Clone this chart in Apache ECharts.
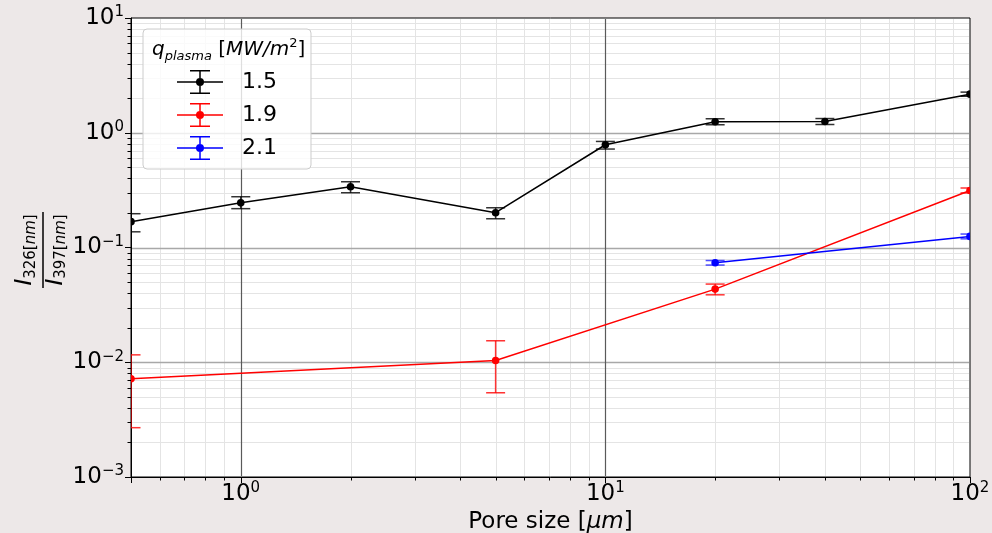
<!DOCTYPE html>
<html><head><meta charset="utf-8">
<script src="https://cdn.jsdelivr.net/npm/echarts@6/dist/echarts.min.js"></script>
<style>html,body{margin:0;padding:0;background:#ede8e8}#c{width:992px;height:533px}</style>
</head><body><div id="c"></div>
<script>
// ---- data ----
const poreBlack  = [0.5, 1, 2, 5, 10, 20, 40, 100];
const ratioBlack = [0.168, 0.245, 0.338, 0.201, 0.786, 1.247, 1.255, 2.17];
const lowBlack   = [0.137, 0.218, 0.300, 0.178, 0.721, 1.174, 1.18, 2.08];
const highBlack  = [0.197, 0.277, 0.374, 0.222, 0.840, 1.324, 1.33, 2.26];

const poreRed  = [0.5, 5, 20, 100];
const ratioRed = [0.00718, 0.01037, 0.0434, 0.314];
const lowRed   = [0.00269, 0.00542, 0.0387, 0.299];
const highRed  = [0.0116, 0.01539, 0.048, 0.330];

const poreBlue  = [20, 100];
const ratioBlue = [0.0736, 0.125];
const lowBlue   = [0.0703, 0.119];
const highBlue  = [0.077, 0.131];

const seriesNames = ['1.5', '1.9', '2.1'];
const xMajorTicks = [1, 10];
const yMajorTicks = [0.01, 0.1, 1];
const xMinorTicks = [0.6,0.7,0.8,0.9, 2,3,4,5,6,7,8,9, 20,30,40,50,60,70,80,90];
const yMinorTicks = [0.002,0.003,0.004,0.005,0.006,0.007,0.008,0.009,
                     0.02,0.03,0.04,0.05,0.06,0.07,0.08,0.09,
                     0.2,0.3,0.4,0.5,0.6,0.7,0.8,0.9,
                     2,3,4,5,6,7,8,9];

const FONT = 'DejaVu Sans';

function zip4(a,b,c,d){ return a.map((v,i)=>[v,b[i],c[i],d[i]]); }
function zip2(a,b){ return a.map((v,i)=>[v,b[i]]); }

function powLabel(v){
  const e = Math.log10(v), r = Math.round(e);
  if (Math.abs(e - r) > 1e-6) return '';
  return '{b|10}{s|' + (r < 0 ? '\u2212' + (-r) : r) + '}';
}
const tickRich = {
  b: {fontSize: 23, fontFamily: FONT, color: '#000', lineHeight: 26},
  s: {fontSize: 15, fontFamily: FONT, color: '#000', lineHeight: 14, verticalAlign: 'top'}
};

function gridX(color, width, tick){
  return function(params, api){
    const cs = params.coordSys;
    const px = Math.round(api.coord([api.value(0), 1])[0]) + 0.5;
    const ch = [{type:'line', shape:{x1:px, y1:cs.y+1, x2:px, y2:cs.y+cs.height-1}, style:{stroke:color, lineWidth:width}}];
    if (tick) ch.push({type:'line', shape:{x1:px, y1:cs.y+cs.height, x2:px, y2:cs.y+cs.height+tick}, style:{stroke:'#000', lineWidth:1}});
    return {type:'group', children:ch};
  };
}
function gridY(color, width, tick){
  return function(params, api){
    const cs = params.coordSys;
    const py = Math.round(api.coord([1, api.value(1)])[1]) + 0.5;
    const ch = [{type:'line', shape:{x1:cs.x+1, y1:py, x2:cs.x+cs.width-1, y2:py}, style:{stroke:color, lineWidth:width}}];
    if (tick) ch.push({type:'line', shape:{x1:cs.x-tick, y1:py, x2:cs.x, y2:py}, style:{stroke:'#000', lineWidth:1}});
    return {type:'group', children:ch};
  };
}
function errRender(color, ecolor){
  return function(params, api){
    const x = api.value(0), y = api.value(1), lo = api.value(2), hi = api.value(3);
    const p = api.coord([x, y]), a = api.coord([x, lo]), b = api.coord([x, hi]);
    const w = 9.5;
    return {type:'group', children:[
      {type:'line', shape:{x1:p[0], y1:a[1], x2:p[0], y2:b[1]}, style:{stroke:ecolor, lineWidth:1.5}},
      {type:'line', shape:{x1:p[0]-w, y1:a[1], x2:p[0]+w, y2:a[1]}, style:{stroke:ecolor, lineWidth:1.5}},
      {type:'line', shape:{x1:p[0]-w, y1:b[1], x2:p[0]+w, y2:b[1]}, style:{stroke:ecolor, lineWidth:1.5}},
      {type:'circle', shape:{cx:p[0], cy:p[1], r:3.8}, style:{fill:color}}
    ]};
  };
}

const iconPath = 'path://M0 11.25L46 11.25L46 12.75L0 12.75Z' +
  'M22.25 0L23.75 0L23.75 24L22.25 24Z' +
  'M13 0L33 0L33 1.5L13 1.5Z' +
  'M13 22.5L33 22.5L33 24L13 24Z' +
  'M19 12A4 4 0 1 1 27 12A4 4 0 1 1 19 12Z';

const colors = ['#000000', '#ff0000', '#0000ff'];
const ecolors = ['rgba(0,0,0,0.8)', 'rgba(255,0,0,0.8)', 'rgba(0,0,255,0.7)'];
const groups = [
  [poreBlack, ratioBlack, lowBlack, highBlack],
  [poreRed, ratioRed, lowRed, highRed],
  [poreBlue, ratioBlue, lowBlue, highBlue]
];

const series = [
  {type:'custom', name:'minorX', renderItem: gridX('#e4e4e4', 1, 3.5), data: xMinorTicks.map(v=>[v,1]), clip:false, z:1, silent:true},
  {type:'custom', name:'minorY', renderItem: gridY('#e4e4e4', 1, 3.5), data: yMinorTicks.map(v=>[1,v]), clip:false, z:1, silent:true},
  {type:'custom', name:'majorY', renderItem: gridY('#a8a8a8', 1.5, 0), data: yMajorTicks.map(v=>[1,v]), clip:false, z:2, silent:true},
  {type:'custom', name:'majorX', renderItem: gridX('#5a5a5a', 1.2, 0), data: xMajorTicks.map(v=>[v,1]), clip:false, z:2, silent:true}
];
groups.forEach((g, i) => {
  series.push({
    type:'line', name: seriesNames[i], data: zip2(g[0], g[1]), showSymbol:false, clip:true,
    color: colors[i], lineStyle:{color: colors[i], width:1.5}, z:3
  });
  series.push({
    type:'custom', name: seriesNames[i], data: zip4(g[0], g[1], g[2], g[3]),
    renderItem: errRender(colors[i], ecolors[i]), encode:{x:0, y:1}, clip:true, z:4,
    itemStyle:{color: colors[i]}
  });
});

const normalRich = (o) => Object.assign({fontFamily:FONT, color:'#000', fontWeight:'normal'}, o);

const chart = echarts.init(document.getElementById('c'), null, {renderer:'canvas'});
chart.setOption({
  animation: false,
  backgroundColor: '#ede8e8',
  grid: {left:131, right:22, top:18, bottom:56, containLabel:false, outerBoundsMode:'none',
         show:true, backgroundColor:'#ffffff', borderColor:'#000', borderWidth:1},
  xAxis: {
    type:'log', logBase:10, min:0.5, max:100,
    axisLine:{show:true, lineStyle:{color:'#000', width:1}},
    axisTick:{show:true, length:6, lineStyle:{color:'#000', width:1}},
    minorTick:{show:false},
    splitLine:{show:false},
    axisLabel:{formatter: powLabel, margin:4, rich: tickRich},
    name:'{n|Pore size [}{i|\u03bcm}{n|]}', nameLocation:'middle', nameGap:30,
    nameTextStyle:{rich:{
      n:{fontSize:23, fontFamily:FONT, color:'#000'},
      i:{fontSize:23, fontFamily:FONT, fontStyle:'italic', color:'#000'}
    }}
  },
  yAxis: {
    type:'log', logBase:10, min:0.001, max:10,
    axisLine:{show:true, lineStyle:{color:'#000', width:1}},
    axisTick:{show:true, length:6, lineStyle:{color:'#000', width:1}},
    minorTick:{show:false},
    splitLine:{show:false},
    axisLabel:{formatter: powLabel, margin:7, rich: tickRich}
  },
  title: {
    text:'{q|q}{sub|plasma}{n| [}{it|MW/m}{sup|2}{n|]}',
    left:152, top:37, padding:0, z:10,
    textStyle:{fontWeight:'normal', rich:{
      q:normalRich({fontSize:20, fontStyle:'italic', lineHeight:26}),
      sub:normalRich({fontSize:13, fontStyle:'italic', lineHeight:13, verticalAlign:'bottom'}),
      n:normalRich({fontSize:20, lineHeight:26}),
      it:normalRich({fontSize:20, fontStyle:'italic', lineHeight:26}),
      sup:normalRich({fontSize:13, lineHeight:13, verticalAlign:'top'})
    }}
  },
  legend: {
    data: seriesNames.map(n => ({name:n, icon: iconPath})),
    orient:'vertical', left:143, top:29, itemWidth:46, itemHeight:24, itemGap:9,
    padding:[41,34,9,34],
    backgroundColor:'rgba(255,255,255,0.8)', borderColor:'#cccccc', borderWidth:1, borderRadius:4,
    textStyle:{fontSize:22, fontFamily:FONT, color:'#000', padding:[0,0,0,14]},
    selectedMode:false, z:8
  },
  graphic: [{
    type:'group', x:43, y:250, rotation:Math.PI/2, z:10,
    children:[
      {type:'text', x:0, y:-4.5, style:{
        text:'{i|I}{s|326[}{si|nm}{s|]}', align:'center', verticalAlign:'bottom',
        rich:{
          i:{fontSize:23, fontFamily:FONT, fontStyle:'italic', fill:'#000', lineHeight:26},
          s:{fontSize:15, fontFamily:FONT, fill:'#000', lineHeight:15, verticalAlign:'bottom'},
          si:{fontSize:15, fontFamily:FONT, fontStyle:'italic', fill:'#000', lineHeight:15, verticalAlign:'bottom'}
        }}},
      {type:'line', shape:{x1:-38, y1:0, x2:38, y2:0}, style:{stroke:'#000', lineWidth:1.5}},
      {type:'text', x:0, y:0, style:{
        text:'{i|I}{s|397[}{si|nm}{s|]}', align:'center', verticalAlign:'top',
        rich:{
          i:{fontSize:23, fontFamily:FONT, fontStyle:'italic', fill:'#000', lineHeight:26},
          s:{fontSize:15, fontFamily:FONT, fill:'#000', lineHeight:15, verticalAlign:'bottom'},
          si:{fontSize:15, fontFamily:FONT, fontStyle:'italic', fill:'#000', lineHeight:15, verticalAlign:'bottom'}
        }}}
    ]
  }],
  series: series
});
</script>
</body></html>
